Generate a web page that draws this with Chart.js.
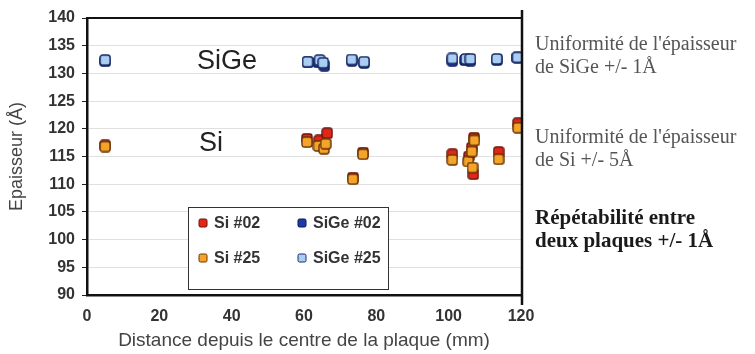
<!DOCTYPE html>
<html>
<head>
<meta charset="utf-8">
<script src="https://cdn.jsdelivr.net/npm/chart.js@4.4.1/dist/chart.umd.min.js"></script>
<style>
  html, body { margin: 0; padding: 0; background: #fff; }
  #wrap { width: 755px; height: 354px; position: relative; }
</style>
</head>
<body>
<div id="wrap"><canvas id="c"></canvas></div>
<script>
// Epaisseur Si / SiGe vs distance from wafer centre

const si02X = [5, 60.8, 64.2, 66.4, 73.5, 76.3, 101, 105.6, 106.4, 107, 106.8, 113.8, 119.2];
const si02Y = [117, 118.2, 117.9, 119.2, 111.2, 115.7, 115.4, 115, 116.6, 118.4, 111.8, 115.8, 121];

const si25X = [5, 60.8, 64, 65.5, 66, 73.5, 76.3, 101, 105.4, 106.4, 107.1, 106.6, 113.8, 119.2];
const si25Y = [116.8, 117.6, 116.9, 116.4, 117.3, 110.9, 115.4, 114.4, 114.1, 115.9, 117.9, 113, 114.5, 120.2];

const sige02X = [5, 61, 64, 65.6, 73.2, 76.6, 101, 104.5, 106, 113.3, 119];
const sige02Y = [132.2, 132, 132, 131.4, 132.3, 131.9, 132.3, 132.4, 132.3, 132.4, 132.8];

const sige25X = [5, 61, 64.3, 65.3, 73.2, 76.6, 101, 104.8, 106, 113.3, 119];
const sige25Y = [132.4, 132.1, 132.4, 131.9, 132.5, 132.1, 132.7, 132.6, 132.6, 132.6, 132.9];

const xTicks = [0, 20, 40, 60, 80, 100, 120];
const yTicks = [90, 95, 100, 105, 110, 115, 120, 125, 130, 135, 140];

const notes = [
    { lines: ["Uniformité de l'épaisseur", "de SiGe +/- 1Å"], y: 45, bold: false },
    { lines: ["Uniformité de l'épaisseur", "de Si +/- 5Å"], y: 138, bold: false },
    { lines: ["Répétabilité entre", "deux plaques +/- 1Å"], y: 219, bold: true }
];

const SANS = "'Liberation Sans', Arial, sans-serif";
const SERIF = "'Liberation Serif', 'DejaVu Serif', serif";

function pts(xs, ys) {
    return xs.map((x, i) => ({ x, y: ys[i] }));
}

function marker(fill, stroke, size = 12) {
    const c = document.createElement("canvas");
    c.width = size; c.height = size;
    const g = c.getContext("2d");
    g.fillStyle = fill;
    g.strokeStyle = stroke;
    g.lineWidth = 1.4;
    g.beginPath();
    g.roundRect(1, 1, size - 2, size - 2, 2.5);
    g.fill();
    g.stroke();
    return c;
}

const series = [
    { label: "Si #02", xs: si02X, ys: si02Y, fill: "#e3261c", stroke: "#6b1406", order: 2 },
    { label: "SiGe #02", xs: sige02X, ys: sige02Y, fill: "#1c3aa6", stroke: "#0c1850", order: 2 },
    { label: "Si #25", xs: si25X, ys: si25Y, fill: "#f5a42a", stroke: "#6a3506", order: 1 },
    { label: "SiGe #25", xs: sige25X, ys: sige25Y, fill: "#a9cdf3", stroke: "#1b2c66", order: 1 }
];

const datasets = series.map(s => ({
    label: s.label,
    data: pts(s.xs, s.ys),
    pointStyle: marker(s.fill, s.stroke),
    pointRadius: 6,
    backgroundColor: s.fill,
    borderColor: s.stroke,
    order: s.order,
    _fill: s.fill,
    _stroke: s.stroke
}));

const decor = {
    id: "decor",
    afterDraw(chart) {
        const { ctx, chartArea: a } = chart;
        ctx.save();

        // top frame line and right vertical line
        ctx.strokeStyle = "#111";
        ctx.lineWidth = 2;
        ctx.beginPath();
        ctx.moveTo(a.left, a.top);
        ctx.lineTo(a.right, a.top);
        ctx.stroke();
        ctx.lineWidth = 2.5;
        ctx.beginPath();
        ctx.moveTo(a.right + 1, a.top - 8);
        ctx.lineTo(a.right + 1, a.bottom + 10);
        ctx.stroke();

        // big labels in the plot
        ctx.fillStyle = "#222";
        ctx.font = "27px " + SANS;
        ctx.textAlign = "center";
        ctx.textBaseline = "middle";
        ctx.fillText("SiGe", 227, 62);
        ctx.fillText("Si", 211, 144);

        // legend box
        const lx = 188, ly = 207, lw = 200, lh = 82;
        ctx.fillStyle = "#fff";
        ctx.fillRect(lx, ly, lw, lh);
        ctx.strokeStyle = "#333";
        ctx.lineWidth = 1;
        ctx.strokeRect(lx + 0.5, ly + 0.5, lw, lh);
        const cells = [
            [0, 203, 223], [1, 302, 223], [2, 203, 258], [3, 302, 258]
        ];
        ctx.font = "bold 16px " + SANS;
        ctx.textAlign = "left";
        for (const [i, cx, cy] of cells) {
            const ds = chart.data.datasets[i];
            ctx.fillStyle = ds._fill;
            ctx.strokeStyle = ds._stroke;
            ctx.lineWidth = 1;
            ctx.beginPath();
            ctx.roundRect(cx - 4, cy - 4, 8, 8, 1.5);
            ctx.fill();
            ctx.stroke();
            ctx.fillStyle = "#333";
            ctx.fillText(ds.label, cx + 11, cy + 1);
        }

        // notes on the right
        ctx.textAlign = "left";
        ctx.textBaseline = "middle";
        for (const n of notes) {
            ctx.font = (n.bold ? "bold 21px " : "20px ") + SERIF;
            ctx.fillStyle = n.bold ? "#1a1a1a" : "#555";
            n.lines.forEach((t, k) => ctx.fillText(t, 535, n.y + k * 23));
        }
        ctx.restore();
    }
};

new Chart(document.getElementById("c"), {
    type: "scatter",
    data: { datasets },
    options: {
        responsive: true,
        maintainAspectRatio: false,
        animation: false,
        layout: { padding: { top: 18, right: 234, left: 6, bottom: 2 } },
        plugins: { legend: { display: false }, tooltip: { enabled: false } },
        scales: {
            x: {
                type: "linear",
                min: 0, max: 120,
                afterBuildTicks: s => { s.ticks = xTicks.map(v => ({ value: v })); },
                afterFit: s => { s.height = 57; },
                grid: { display: false, drawOnChartArea: false, tickLength: 5, tickColor: "#222" },
                border: { display: true, color: "#111", width: 2.5 },
                ticks: { color: "#333", font: { family: SANS, size: 16, weight: "bold" }, padding: 7 },
                title: { display: true, text: "Distance depuis le centre de la plaque (mm)", color: "#444",
                    font: { family: SANS, size: 19 }, padding: { top: 0, bottom: 0 } }
            },
            y: {
                type: "linear",
                min: 90, max: 140,
                afterBuildTicks: s => { s.ticks = yTicks.map(v => ({ value: v })); },
                afterFit: s => { s.width = 81; },
                grid: { color: "#e0e0e0", lineWidth: 1, tickLength: 5, tickColor: "#222", drawTicks: true },
                border: { display: true, color: "#111", width: 2.5 },
                ticks: { color: "#333", font: { family: SANS, size: 16, weight: "bold" }, padding: 7 },
                title: { display: true, text: "Epaisseur (Å)", color: "#444",
                    font: { family: SANS, size: 18 }, padding: { top: 0, bottom: 2 } }
            }
        }
    },
    plugins: [decor]
});
</script>
</body>
</html>
